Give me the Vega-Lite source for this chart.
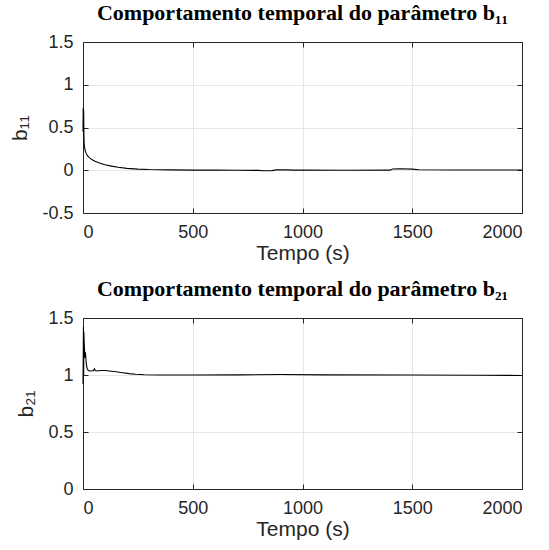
{
  "$schema": "https://vega.github.io/schema/vega-lite/v6.json",
  "padding": {"left": 9, "top": 1, "right": 5, "bottom": 5},
  "background": "white",
  "bounds": "flush",
  "spacing": 105,
  "datasets": {
    "b11": [
      {"t": 0, "v": 0.45}, {"t": 1, "v": 0.73}, {"t": 2, "v": 0.62}, {"t": 3, "v": 0.7}, {"t": 4, "v": 0.45},
      {"t": 5, "v": 0.32}, {"t": 7, "v": 0.27}, {"t": 10, "v": 0.23}, {"t": 14, "v": 0.2}, {"t": 20, "v": 0.17},
      {"t": 28, "v": 0.15}, {"t": 40, "v": 0.125}, {"t": 55, "v": 0.105}, {"t": 75, "v": 0.085}, {"t": 100, "v": 0.065},
      {"t": 130, "v": 0.048}, {"t": 160, "v": 0.035}, {"t": 200, "v": 0.022}, {"t": 250, "v": 0.013}, {"t": 300, "v": 0.008},
      {"t": 400, "v": 0.004}, {"t": 500, "v": 0.002}, {"t": 600, "v": 0.001}, {"t": 700, "v": 0.0}, {"t": 800, "v": -0.002},
      {"t": 820, "v": -0.006}, {"t": 860, "v": -0.004}, {"t": 880, "v": 0.004}, {"t": 920, "v": 0.004}, {"t": 960, "v": 0.001},
      {"t": 1000, "v": 0.001}, {"t": 1200, "v": 0.0}, {"t": 1400, "v": 0.001}, {"t": 1410, "v": 0.015}, {"t": 1440, "v": 0.017},
      {"t": 1500, "v": 0.013}, {"t": 1530, "v": 0.005}, {"t": 1700, "v": 0.003}, {"t": 2000, "v": 0.003}
    ],
    "b21": [
      {"t": 0, "v": 0.92}, {"t": 1, "v": 1.15}, {"t": 2, "v": 1.42}, {"t": 3, "v": 1.0}, {"t": 4, "v": 1.38},
      {"t": 5, "v": 1.3}, {"t": 7, "v": 1.22}, {"t": 9, "v": 1.15}, {"t": 11, "v": 1.2}, {"t": 14, "v": 1.12},
      {"t": 17, "v": 1.07}, {"t": 20, "v": 1.05}, {"t": 25, "v": 1.04}, {"t": 30, "v": 1.035}, {"t": 40, "v": 1.035},
      {"t": 48, "v": 1.04}, {"t": 52, "v": 1.055}, {"t": 56, "v": 1.04}, {"t": 65, "v": 1.035}, {"t": 80, "v": 1.04},
      {"t": 100, "v": 1.04}, {"t": 120, "v": 1.035}, {"t": 150, "v": 1.028}, {"t": 180, "v": 1.02}, {"t": 210, "v": 1.012},
      {"t": 240, "v": 1.006}, {"t": 280, "v": 1.002}, {"t": 350, "v": 1.0}, {"t": 500, "v": 1.0}, {"t": 700, "v": 1.001},
      {"t": 900, "v": 1.004}, {"t": 1100, "v": 1.001}, {"t": 1500, "v": 1.0}, {"t": 1800, "v": 0.998}, {"t": 2000, "v": 0.996}
    ]
  },
  "vconcat": [
    {
      "width": 439,
      "height": 171,
      "title": {"text": "Comportamento temporal do parâmetro b₁₁"},
      "data": {"name": "b11"},
      "layer": [
        {
          "mark": {"type": "line", "color": "black", "strokeWidth": 1.1},
          "encoding": {
            "x": {"field": "t", "type": "quantitative", "scale": {"domain": [0, 2000], "nice": false},
                  "axis": {"values": [0, 500, 1000, 1500, 2000], "title": "Tempo (s)"}},
            "y": {"field": "v", "type": "quantitative", "scale": {"domain": [-0.5, 1.5], "nice": false, "zero": false},
                  "axis": {"values": [-0.5, 0, 0.5, 1, 1.5], "title": "b₁₁", "titleAngle": 270}}
          }
        },
        {
          "mark": {"type": "line", "opacity": 0},
          "encoding": {
            "x": {"field": "t", "type": "quantitative",
                  "axis": {"values": [0, 500, 1000, 1500, 2000], "labels": false, "title": null, "grid": false}},
            "y": {"field": "v", "type": "quantitative",
                  "axis": {"values": [-0.5, 0, 0.5, 1, 1.5], "labels": false, "title": null, "grid": false}}
          }
        }
      ],
      "resolve": {"axis": {"x": "independent", "y": "independent"}}
    },
    {
      "width": 439,
      "height": 171,
      "title": {"text": "Comportamento temporal do parâmetro b₂₁"},
      "data": {"name": "b21"},
      "layer": [
        {
          "mark": {"type": "line", "color": "black", "strokeWidth": 1.1},
          "encoding": {
            "x": {"field": "t", "type": "quantitative", "scale": {"domain": [0, 2000], "nice": false},
                  "axis": {"values": [0, 500, 1000, 1500, 2000], "title": "Tempo (s)"}},
            "y": {"field": "v", "type": "quantitative", "scale": {"domain": [0, 1.5], "nice": false, "zero": false},
                  "axis": {"values": [0, 0.5, 1, 1.5], "title": "b₂₁", "titleAngle": 270}}
          }
        },
        {
          "mark": {"type": "line", "opacity": 0},
          "encoding": {
            "x": {"field": "t", "type": "quantitative",
                  "axis": {"values": [0, 500, 1000, 1500, 2000], "labels": false, "title": null, "grid": false}},
            "y": {"field": "v", "type": "quantitative",
                  "axis": {"values": [0, 0.5, 1, 1.5], "labels": false, "title": null, "grid": false}}
          }
        }
      ],
      "resolve": {"axis": {"x": "independent", "y": "independent"}}
    }
  ],
  "config": {
    "view": {"stroke": "#262626", "strokeWidth": 1},
    "title": {"font": "Liberation Serif", "fontSize": 22, "fontWeight": "bold", "color": "black", "offset": 8, "anchor": "middle"},
    "axis": {
      "labelFont": "Liberation Sans", "labelFontSize": 18, "labelColor": "#262626", "labelPadding": 15,
      "labelExpr": "datum.value < 0 ? '-' + format(-datum.value, '~g') : format(datum.value, '~g')",
      "titleFont": "Liberation Sans", "titleFontSize": 21, "titleFontWeight": "normal", "titleColor": "#262626",
      "tickColor": "#262626", "tickSize": -5, "domainColor": "#262626",
      "gridColor": "#e6e6e6", "gridWidth": 1
    },
    "axisX": {"titlePadding": 1},
    "axisY": {"titlePadding": 11}
  }
}
